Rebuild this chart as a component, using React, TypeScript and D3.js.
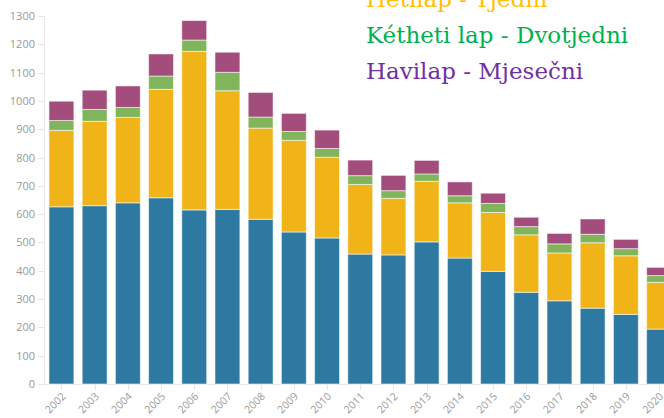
import React, { useRef, useEffect } from 'react';
import * as d3 from 'd3';

const years = ['2002', '2003', '2004', '2005', '2006', '2007', '2008', '2009', '2010', '2011', '2012', '2013', '2014', '2015', '2016', '2017', '2018', '2019', '2020'];

// napilap / hetilap / kétheti / havilap
const daily = [626, 630, 640, 658, 615, 617, 582, 537, 516, 459, 456, 502, 445, 398, 324, 294, 268, 246, 194];
const weekly = [270, 298, 302, 383, 560, 419, 322, 324, 285, 246, 200, 214, 195, 208, 203, 169, 231, 207, 165];
const biweekly = [35, 42, 35, 47, 40, 65, 39, 31, 31, 31, 27, 26, 25, 32, 29, 32, 30, 25, 24];
const monthly = [68, 68, 76, 78, 69, 71, 87, 64, 65, 55, 54, 48, 49, 36, 33, 37, 54, 33, 29];

const keys = ['daily', 'weekly', 'biweekly', 'monthly'];
const colors = ['#2e79a1', '#f0b419', '#80b55c', '#a34d7d'];

const legendLabels = ['Napilap - Dnevni', 'Hetilap - Tjedni', 'Kétheti lap - Dvotjedni', 'Havilap - Mjesečni'];
const legendColors = ['#2e79a1', '#ffc000', '#00b050', '#7030a0'];

const yTicks = [0, 100, 200, 300, 400, 500, 600, 700, 800, 900, 1000, 1100, 1200, 1300];

const width = 664;
const height = 418;

const App = () => {
  const ref = useRef(null);

  useEffect(() => {
    const data = years.map((y, i) => ({
      year: y,
      daily: daily[i],
      weekly: weekly[i],
      biweekly: biweekly[i],
      monthly: monthly[i],
    }));

    const series = d3.stack().keys(keys)(data as any);

    const svg = d3.select(ref.current);
    svg.selectAll('*').remove();

    const x = d3
      .scaleBand()
      .domain(years)
      .range([44, 676.5])
      .paddingInner(0.25)
      .paddingOuter(0.15);

    const y = d3.scaleLinear().domain([0, 1300]).range([384, 16]);

    // y axis
    const yAxis = svg.append('g');
    yAxis
      .append('line')
      .attr('x1', 44.5)
      .attr('x2', 44.5)
      .attr('y1', y(1300))
      .attr('y2', y(0))
      .attr('stroke', '#e6e6e6');
    yAxis
      .selectAll('line.tick')
      .data(yTicks)
      .enter()
      .append('line')
      .attr('class', 'tick')
      .attr('x1', 38)
      .attr('x2', 44)
      .attr('y1', d => Math.round(y(d)) + 0.5)
      .attr('y2', d => Math.round(y(d)) + 0.5)
      .attr('stroke', '#e6e6e6');
    yAxis
      .selectAll('text')
      .data(yTicks)
      .enter()
      .append('text')
      .attr('x', 35)
      .attr('y', d => y(d) + 4)
      .attr('text-anchor', 'end')
      .style('font-family', '"Open Sans", sans-serif')
      .style('font-size', '11px')
      .style('fill', '#999')
      .text(d => d);

    // baseline
    svg
      .append('line')
      .attr('x1', 38)
      .attr('x2', width)
      .attr('y1', y(0) + 0.5)
      .attr('y2', y(0) + 0.5)
      .attr('stroke', '#e6e6e6');

    // bars
    svg
      .selectAll('g.serie')
      .data(series)
      .enter()
      .append('g')
      .attr('class', 'serie')
      .style('fill', (d, i) => colors[i])
      .selectAll('rect')
      .data(d => d)
      .enter()
      .append('rect')
      .attr('x', d => x(d.data.year))
      .attr('width', x.bandwidth())
      .attr('y', d => y(d[1]))
      .attr('height', d => y(d[0]) - y(d[1]))
      .attr('stroke', 'rgba(255,255,255,0.55)')
      .attr('stroke-width', 1);

    // x axis
    const xAxis = svg.append('g');
    xAxis
      .selectAll('line')
      .data(years)
      .enter()
      .append('line')
      .attr('x1', d => Math.round(x(d) + x.bandwidth() / 2) + 0.5)
      .attr('x2', d => Math.round(x(d) + x.bandwidth() / 2) + 0.5)
      .attr('y1', y(0))
      .attr('y2', y(0) + 6)
      .attr('stroke', '#e6e6e6');
    xAxis
      .selectAll('text')
      .data(years)
      .enter()
      .append('text')
      .attr('transform', d => 'translate(' + (x(d) + x.bandwidth() / 2 + 5) + ',' + (y(0) + 13) + ') rotate(-45)')
      .attr('text-anchor', 'end')
      .style('font-family', '"Open Sans", sans-serif')
      .style('font-size', '10.5px')
      .style('fill', '#999')
      .text(d => d);

    // legend (top is cut off)
    svg
      .append('g')
      .selectAll('text')
      .data(legendLabels)
      .enter()
      .append('text')
      .attr('x', 366)
      .attr('y', (d, i) => -29 + i * 36)
      .style('font-family', '"DejaVu Serif", serif')
      .style('font-size', '23px')
      .style('fill', (d, i) => legendColors[i])
      .text(d => d);
  }, []);

  return (
    <svg
      ref={ref}
      width={width}
      height={height}
      style={{ position: 'absolute', left: 0, top: 0, display: 'block', background: '#fff' }}
    />
  );
};

export default App;
